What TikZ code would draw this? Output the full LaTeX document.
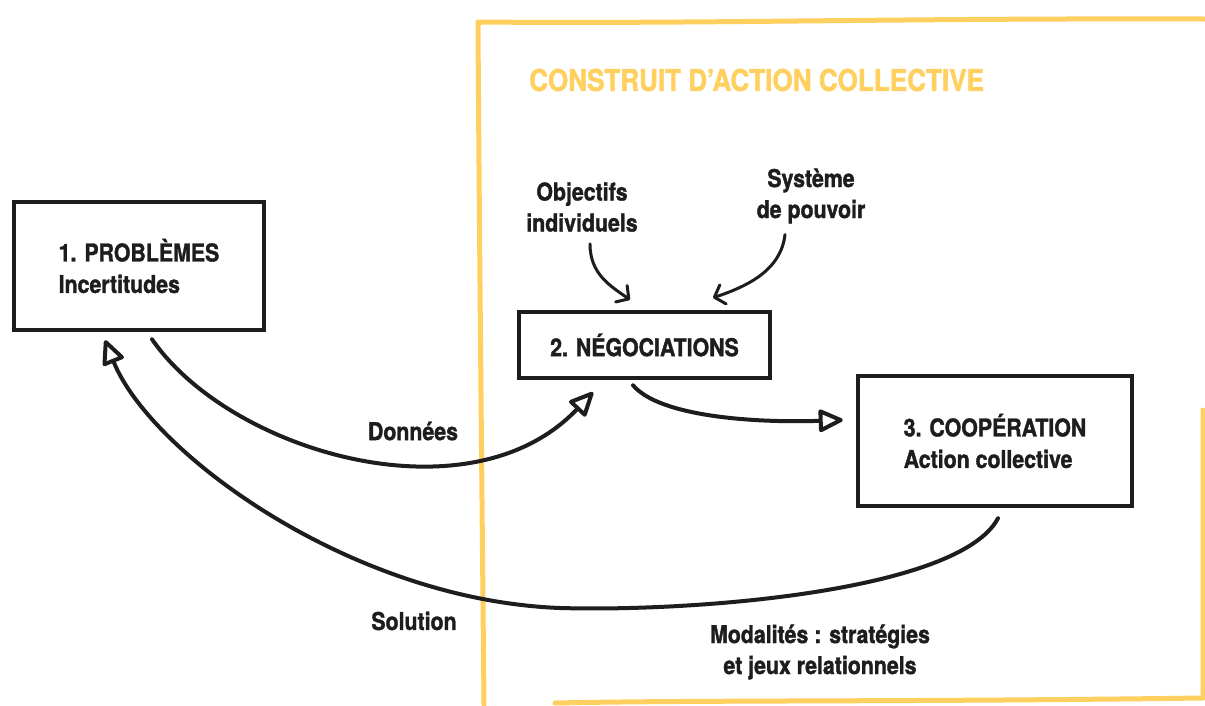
\documentclass[tikz,border=0pt]{standalone}
\usepackage{fontspec}
\setmainfont{TeX Gyre Heros}[FakeStretch=0.87, BoldFeatures={FakeBold=1.4}]
\usetikzlibrary{arrows.meta,positioning}
\definecolor{jaune}{RGB}{255,208,95}
\definecolor{encre}{RGB}{30,28,30}

\begin{document}
\begin{tikzpicture}[x=1pt, y=-1pt,
    boite/.style = {draw=encre, line width=4.5pt, align=left, text=encre,
      font=\fontsize{24.5}{31.5}\selectfont\bfseries},
    etiq/.style = {align=center, text=encre, inner sep=0pt,
      font=\fontsize{24.5}{31}\selectfont\bfseries},
    fleche/.style = {draw=encre, line width=4pt, line cap=round,
      -{Triangle[open, round, length=27pt, width=24pt, line width=4pt]}},
    petite/.style = {draw=encre, line width=3pt, line cap=round,
      -{Straight Barb[round, length=9pt, width=20pt, line width=3pt]}}]
  \useasboundingbox (0,0) rectangle (1205,705);
  \fill[white] (0,0) rectangle (1205,705);
  % cadre jaune
  \draw[jaune, line width=5pt, line cap=round, line join=round]
    (1203,410) -- (1203,698) .. controls (900,702) and (700,700) .. (555,703);
  \draw[jaune, line width=5pt, line cap=round, line join=round]
    (484,705) .. controls (482,500) and (479,200) .. (478,22)
    .. controls (700,24) and (900,18) .. (1205,19);
  \node[text=jaune, inner sep=0pt, anchor=west,
    font=\fontsize{30}{31}\selectfont\bfseries] (titre) at (529,80)
    {CONSTRUIT D’ACTION COLLECTIVE};
  % boites
  \node[boite, minimum width=250pt, minimum height=128pt] (1) at (139,266)
    {1. PROBLÈMES\\Incertitudes};
  \node[boite, minimum width=251pt, minimum height=66pt] (2) at (644.5,345)
    {2. NÉGOCIATIONS};
  \node[boite, minimum width=274pt, minimum height=130pt] (3) at (995,441)
    {3. COOPÉRATION\\Action collective};
  % etiquettes
  \node[etiq] (obj) at (582,207) {Objectifs\\individuels};
  \node[etiq] (sys) at (811,196) {Système\\de pouvoir};
  \node[etiq] (don) at (413,431) {Données};
  \node[etiq] (sol) at (414,621) {Solution};
  \node[etiq] (mod) at (820,652) {Modalités : stratégies\\et jeux relationnels};
  % fleches
  \draw[petite] ([xshift=8pt, yshift=-12pt]obj.south)
    .. controls +(0,30) and +(-20,-14) .. ([xshift=-14.5pt, yshift=10pt]2.north);
  \draw[petite] ([xshift=-26pt, yshift=-11pt]sys.south)
    .. controls +(-4,35) and +(36,-12) .. ([xshift=68.5pt, yshift=12pt]2.north);
  \draw[fleche] ([xshift=13pt, yshift=-7pt]1.south)
    .. controls +(78,113) and +(-123,130) .. ([xshift=-51.5pt, yshift=-12pt]2.south);
  \draw[fleche] ([xshift=-11.5pt, yshift=-5pt]2.south)
    .. controls +(27,32) and +(-85,3) .. ([xshift=-13pt, yshift=21pt]3.west);
  \draw[fleche] ([xshift=3pt, yshift=-10pt]3.south)
    .. controls +(-38,72) and +(140,4) .. (560,608)
    .. controls +(-210,-8) and +(45,112) .. ([xshift=-34pt, yshift=-8pt]1.south);
\end{tikzpicture}
\end{document}
